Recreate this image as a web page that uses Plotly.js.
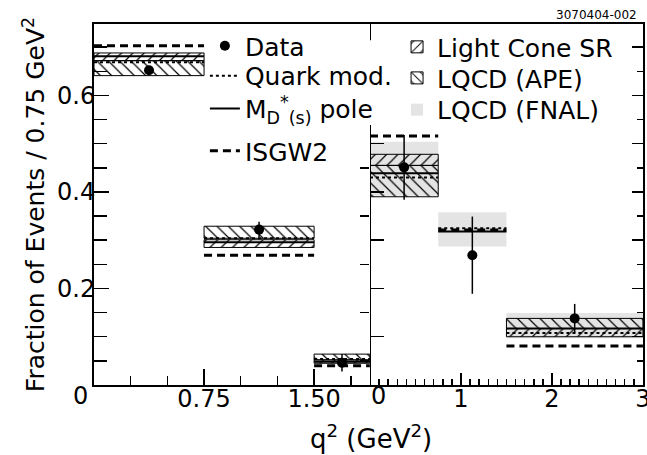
<!DOCTYPE html>
<html>
<head>
<meta charset="utf-8">
<script src="https://cdn.plot.ly/plotly-3.0.1.min.js"></script>
<style>html,body{margin:0;padding:0;background:#fff}#plot{width:647px;height:455px}</style>
</head>
<body>
<div id="plot"></div>
<script>
// ---- bins (q^2 in GeV^2) ----
const kBinLo = [0, 0.75, 1.5];
const kBinHi = [0.75, 1.5, 1.88];
const piBinLo = [0, 0.75, 1.5];
const piBinHi = [0.75, 1.5, 3.0];

// ---- D -> K e nu (left panel) ----
const kDataX = [0.375, 1.125, 1.69];
const kData = [0.652, 0.322, 0.046];
const kErr = [0.008, 0.016, 0.018];
const kQuark = [0.669, 0.304, 0.054];
const kPole = [0.681, 0.296, 0.048];
const kISGW2 = [0.703, 0.269, 0.040];
const kLcsrLo = [0.672, 0.285, 0.045];
const kLcsrHi = [0.688, 0.301, 0.052];
const kApeLo = [0.641, 0.304, 0.052];
const kApeHi = [0.672, 0.329, 0.064];

// ---- D -> pi e nu (right panel) ----
const piDataX = [0.375, 1.125, 2.25];
const piData = [0.451, 0.269, 0.138];
const piErr = [0.067, 0.080, 0.030];
const piQuark = [0.430, 0.325, 0.108];
const piPole = [0.439, 0.318, 0.117];
const piISGW2 = [0.516, 0.321, 0.081];
const piLcsrLo = [0.455, null, 0.100];
const piLcsrHi = [0.478, null, 0.117];
const piApeLo = [0.390, null, 0.117];
const piApeHi = [0.455, null, 0.138];
const piFnalLo = [0.392, 0.287, 0.097];
const piFnalHi = [0.504, 0.358, 0.149];

// ---- labels / ticks ----
const kTickVals = [0.75, 1.5];
const kTickText = ['0.75', '1.50'];
const piTickVals = [1, 2, 3];
const piTickText = ['1', '2', '3'];
const yTickVals = [0.2, 0.4, 0.6];
const yTickText = ['0.2', '0.4', '0.6'];
const midTickMajor = [0.1, 0.2, 0.3, 0.4, 0.5];
const midTickMinor = [0.05, 0.15, 0.25, 0.35, 0.45];

const FONT = 'DejaVu Sans, Liberation Sans, Arial, sans-serif';

function segs(lo, hi, v) {
  const x = [], y = [];
  for (let i = 0; i < v.length; i++) {
    if (v[i] == null) continue;
    x.push(lo[i], hi[i], null);
    y.push(v[i], v[i], null);
  }
  return {x, y};
}
function band(lo, hi, bLo, bHi) {
  const x = [], w = [], base = [], y = [];
  for (let i = 0; i < lo.length; i++) {
    if (bLo[i] == null) continue;
    x.push((lo[i] + hi[i]) / 2);
    w.push(hi[i] - lo[i]);
    base.push(bLo[i]);
    y.push(bHi[i] - bLo[i]);
  }
  return {x, width: w, base, y};
}

const lcsrMarker = {color: 'black', line: {color: 'black', width: 1},
  pattern: {shape: '/', size: 8, solidity: 0.15, fillmode: 'replace'}};
const apeMarker = {color: 'black', line: {color: 'black', width: 1},
  pattern: {shape: '\\', size: 8, solidity: 0.15, fillmode: 'replace'}};
const fnalMarker = {color: 'rgb(228,228,228)', line: {width: 0}};

const traces = [];
// FNAL (pi only)
traces.push(Object.assign({type: 'bar', name: 'LQCD (FNAL)', xaxis: 'x2', yaxis: 'y2',
  marker: fnalMarker, legend: 'legend7', hoverinfo: 'skip'},
  band(piBinLo, piBinHi, piFnalLo, piFnalHi)));
// APE
traces.push(Object.assign({type: 'bar', name: 'LQCD (APE)', xaxis: 'x', yaxis: 'y',
  marker: apeMarker, legend: 'legend6', hoverinfo: 'skip'},
  band(kBinLo, kBinHi, kApeLo, kApeHi)));
traces.push(Object.assign({type: 'bar', name: 'LQCD (APE)', xaxis: 'x2', yaxis: 'y2',
  marker: apeMarker, showlegend: false, hoverinfo: 'skip'},
  band(piBinLo, piBinHi, piApeLo, piApeHi)));
// LCSR
traces.push(Object.assign({type: 'bar', name: 'Light Cone SR', xaxis: 'x', yaxis: 'y',
  marker: lcsrMarker, legend: 'legend5', hoverinfo: 'skip'},
  band(kBinLo, kBinHi, kLcsrLo, kLcsrHi)));
traces.push(Object.assign({type: 'bar', name: 'Light Cone SR', xaxis: 'x2', yaxis: 'y2',
  marker: lcsrMarker, showlegend: false, hoverinfo: 'skip'},
  band(piBinLo, piBinHi, piLcsrLo, piLcsrHi)));

// model lines
const models = [
  {name: 'Quark mod.', k: kQuark, pi: piQuark, line: {color: 'black', width: 2, dash: 'dot'}, lg: 'legend2'},
  {name: 'M<sub>D</sub><sup>*</sup><sub>(s)</sub> pole', k: kPole, pi: piPole, line: {color: 'black', width: 2}, lg: 'legend3'},
  {name: 'ISGW2', k: kISGW2, pi: piISGW2, line: {color: 'black', width: 3, dash: '8px,5px'}, lg: 'legend4'}
];
models.forEach(m => {
  traces.push(Object.assign({type: 'scatter', mode: 'lines', name: m.name, xaxis: 'x', yaxis: 'y',
    line: m.line, legend: m.lg, hoverinfo: 'skip'}, segs(kBinLo, kBinHi, m.k)));
  traces.push(Object.assign({type: 'scatter', mode: 'lines', name: m.name, xaxis: 'x2', yaxis: 'y2',
    line: m.line, showlegend: false, hoverinfo: 'skip'}, segs(piBinLo, piBinHi, m.pi)));
});

// data
const dataMarker = {color: 'black', size: 10, symbol: 'circle'};
traces.push({type: 'scatter', mode: 'markers', name: 'Data', x: kDataX, y: kData, xaxis: 'x', yaxis: 'y',
  marker: dataMarker, legend: 'legend',
  error_y: {type: 'data', array: kErr, visible: true, color: 'black', thickness: 1.5, width: 0}});
traces.push({type: 'scatter', mode: 'markers', name: 'Data', x: piDataX, y: piData, xaxis: 'x2', yaxis: 'y2',
  marker: dataMarker, showlegend: false,
  error_y: {type: 'data', array: piErr, visible: true, color: 'black', thickness: 1.5, width: 0}});
// helper trace for the right-hand frame axis
traces.push({type: 'scatter', mode: 'markers', x: [null], y: [null], xaxis: 'x2', yaxis: 'y3', showlegend: false, hoverinfo: 'skip'});

const YR = [0, 0.748];
const split = 276 / 549;
const axFont = {family: FONT, size: 24, color: 'black'};
const lgFont = {family: FONT, size: 25, color: 'black'};
function lg(x, y) {
  return {x: x, y: y, xanchor: 'left', yanchor: 'middle', bgcolor: 'rgba(0,0,0,0)',
    font: lgFont, borderwidth: 0};
}

const layout = {
  width: 647, height: 455,
  margin: {l: 94, r: 4, t: 24, b: 70, pad: 0},
  paper_bgcolor: 'white', plot_bgcolor: 'white',
  font: {family: FONT, color: 'black'},
  barmode: 'overlay',
  showlegend: true,
  xaxis: {domain: [0, split], range: [0, 1.881], anchor: 'y',
    showline: true, linecolor: 'black', linewidth: 2, mirror: true,
    showgrid: false, zeroline: false, automargin: false,
    tickmode: 'array', tickvals: kTickVals, ticktext: kTickText, ticklabelstandoff: -9,
    ticks: 'inside', ticklen: 16, tickwidth: 1.5, tickcolor: 'black', tickfont: axFont,
    minor: {ticks: 'inside', dtick: 0.25, tick0: 0, ticklen: 9, tickwidth: 1.5, tickcolor: 'black', showgrid: false}},
  xaxis2: {domain: [split, 1], range: [0, 3.001], anchor: 'y2',
    showline: true, linecolor: 'black', linewidth: 2, mirror: true,
    showgrid: false, zeroline: false, automargin: false,
    tickmode: 'array', tickvals: piTickVals, ticktext: piTickText, ticklabelstandoff: -9,
    ticklabeloverflow: 'allow',
    ticks: 'inside', ticklen: 12, tickwidth: 1.5, tickcolor: 'black', tickfont: axFont,
    minor: {ticks: 'inside', dtick: 0.1, tick0: 0, ticklen: 6, tickwidth: 1.5, tickcolor: 'black', showgrid: false}},
  yaxis: {domain: [0, 1], range: YR, anchor: 'x',
    showline: true, linecolor: 'black', linewidth: 2, mirror: false,
    showgrid: false, zeroline: false, automargin: false,
    tickmode: 'array', tickvals: yTickVals, ticktext: yTickText, ticklabelstandoff: -8,
    ticks: 'inside', ticklen: 15, tickwidth: 1.5, tickcolor: 'black', tickfont: axFont,
    minor: {ticks: 'inside', dtick: 0.05, tick0: 0, ticklen: 13, tickwidth: 1.5, tickcolor: 'black', showgrid: false},
    title: {text: 'Fraction of Events / 0.75 GeV<sup>2</sup>', font: {family: FONT, size: 25, color: 'black'}, standoff: 5}},
  yaxis2: {domain: [0, 1], range: YR, anchor: 'x2',
    showline: false, showgrid: false, zeroline: false, automargin: false, showticklabels: false,
    tickmode: 'array', tickvals: midTickMajor,
    ticks: 'inside', ticklen: 14, tickwidth: 1.5, tickcolor: 'black',
    minor: {ticks: 'outside', tickmode: 'array', tickvals: midTickMinor, ticklen: 9, tickwidth: 1.5, tickcolor: 'black', showgrid: false}},
  yaxis3: {overlaying: 'y2', side: 'right', range: YR, anchor: 'x2',
    showline: true, linecolor: 'black', linewidth: 2,
    showgrid: false, zeroline: false, automargin: false, showticklabels: false,
    tickmode: 'linear', dtick: 0.1, tick0: 0,
    ticks: 'inside', ticklen: 11, tickwidth: 1.5, tickcolor: 'black',
    minor: {ticks: 'inside', dtick: 0.05, tick0: 0, ticklen: 6, tickwidth: 1.5, tickcolor: 'black', showgrid: false}},
  legend: lg(0.202, 0.939),
  legend2: lg(0.202, 0.856),
  legend3: lg(0.202, 0.765),
  legend4: lg(0.202, 0.648),
  legend5: lg(0.552, 0.936),
  legend6: lg(0.552, 0.850),
  legend7: lg(0.552, 0.762),
  shapes: [
    {type: 'line', xref: 'x2', yref: 'paper', x0: 0, x1: 0, y0: 0, y1: 0.72, line: {color: 'black', width: 2}},
    {type: 'line', xref: 'x2', yref: 'paper', x0: 0, x1: 0, y0: 0.955, y1: 1, line: {color: 'black', width: 2}}
  ],
  annotations: [
    {text: '0', xref: 'x', x: 0, yref: 'paper', y: 0, xanchor: 'center', yanchor: 'top', xshift: -14, yshift: 5,
      showarrow: false, font: axFont},
    {text: '0', xref: 'x2', x: 0, yref: 'paper', y: 0, xanchor: 'center', yanchor: 'top', xshift: 8, yshift: 5,
      showarrow: false, font: axFont},
    {text: 'q<sup>2</sup> (GeV<sup>2</sup>)', xref: 'paper', x: 0.505, yref: 'paper', y: -0.145,
      xanchor: 'center', yanchor: 'middle', showarrow: false, font: {family: FONT, size: 26, color: 'black'}},
    {text: '3070404-002', xref: 'paper', x: 1, yref: 'paper', y: 1.025, xanchor: 'right', yanchor: 'middle',
      xshift: -4, showarrow: false, font: {family: FONT, size: 12, color: 'black'}}
  ]
};

Plotly.newPlot('plot', traces, layout, {displayModeBar: false, staticPlot: true});
</script>
</body>
</html>
